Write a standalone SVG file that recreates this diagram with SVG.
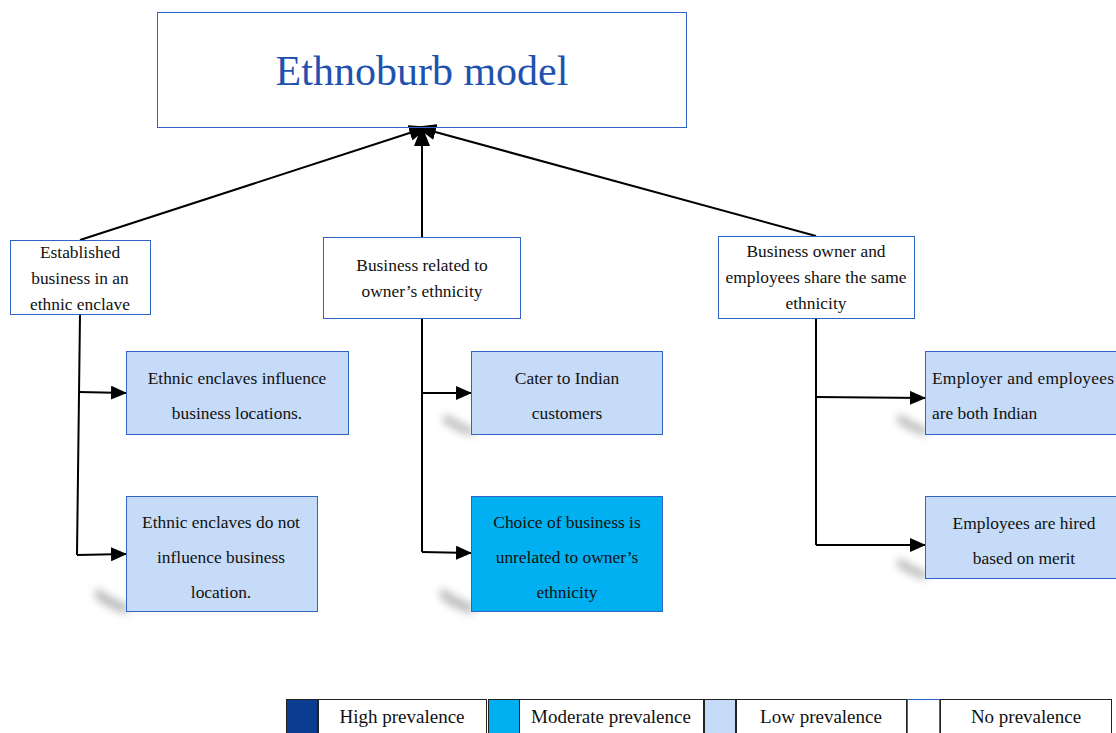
<svg xmlns="http://www.w3.org/2000/svg" width="1116" height="733" viewBox="0 0 1116 733">
  <style>
    .box { stroke: #2f66c4; stroke-width: 1; }
    .white { fill: #ffffff; }
    .low { fill: #c6dbf8; }
    .mod { fill: #00b0f0; }
    .t { font-family: "Liberation Serif", "Times New Roman", serif; font-size: 17.4px; fill: #111111; text-anchor: middle; }
    .ts { font-family: "Liberation Serif", "Times New Roman", serif; font-size: 17.4px; fill: #111111; text-anchor: start; }
    .lg { font-family: "Liberation Serif", "Times New Roman", serif; font-size: 19px; fill: #111111; text-anchor: middle; }
    .edge { stroke: #000000; stroke-width: 2; fill: none; }
    .shadow { fill: #707070; opacity: 0.5; filter: url(#soft); }
  </style>
  <defs>
    <marker id="arrow" viewBox="0 0 16 14" refX="15" refY="7" markerWidth="16" markerHeight="14" markerUnits="userSpaceOnUse" orient="auto">
      <path d="M0,0 L16,7 L0,14 z" fill="#000000"/>
    </marker>
    <marker id="arrowBig" viewBox="0 0 20 16" refX="19" refY="8" markerWidth="20" markerHeight="16" markerUnits="userSpaceOnUse" orient="auto">
      <path d="M0,0 L20,8 L0,16 z" fill="#000000"/>
    </marker>
    <filter id="soft" x="-50%" y="-50%" width="200%" height="200%">
      <feGaussianBlur stdDeviation="4.5"/>
    </filter>
  </defs>

  <rect width="1116" height="733" fill="#ffffff"/>

  <!-- soft drop shadows beneath the lower-left corners -->
  <g id="shadows">
    <path class="shadow" d="M98,588 Q112,600 128,604 L128,614 Q106,608 94,596 z"/>
    <path class="shadow" d="M443,588 Q457,600 473,604 L473,614 Q451,608 439,596 z"/>
    <path class="shadow" d="M446,414 Q460,424 473,428 L473,436 Q455,431 442,421 z"/>
    <path class="shadow" d="M900,414 Q914,424 927,428 L927,436 Q909,431 896,421 z"/>
    <path class="shadow" d="M900,558 Q914,568 927,572 L927,580 Q909,575 896,565 z"/>
  </g>

  <!-- connectors -->
  <g id="connectors">
    <line class="edge" x1="80" y1="240" x2="428" y2="127" marker-end="url(#arrowBig)"/>
    <line class="edge" x1="422" y1="237" x2="422" y2="127" marker-end="url(#arrowBig)"/>
    <line class="edge" x1="816" y1="236" x2="417" y2="127" marker-end="url(#arrowBig)"/>

    <polyline class="edge" points="80,314 77,555"/>
    <polyline class="edge" points="79,392 126,393" marker-end="url(#arrow)"/>
    <polyline class="edge" points="77,555 126,554" marker-end="url(#arrow)"/>

    <polyline class="edge" points="422,318 422,552"/>
    <polyline class="edge" points="422,393 471,393" marker-end="url(#arrow)"/>
    <polyline class="edge" points="422,552 471,553" marker-end="url(#arrow)"/>

    <polyline class="edge" points="816,318 816,545"/>
    <polyline class="edge" points="816,397 925,398" marker-end="url(#arrow)"/>
    <polyline class="edge" points="816,545 925,545" marker-end="url(#arrow)"/>
  </g>

  <g id="title">
    <rect class="box" x="157.5" y="12.5" width="529" height="115" fill="none"/>
    <text x="422" y="85" font-family="Liberation Serif, Times New Roman, serif" font-size="42" fill="#1f52b0" text-anchor="middle">Ethnoburb model</text>
  </g>

  <g id="enclave">
    <rect class="box white" x="10.5" y="240.5" width="140" height="74"/>
    <text class="t" x="80" y="258">Established</text>
    <text class="t" x="80" y="284">business in an</text>
    <text class="t" x="80" y="310">ethnic enclave</text>
  </g>

  <g id="ethnicity">
    <rect class="box white" x="323.5" y="237.5" width="197" height="81"/>
    <text class="t" x="422" y="271">Business related to</text>
    <text class="t" x="422" y="297">owner’s ethnicity</text>
  </g>

  <g id="sameethnicity">
    <rect class="box white" x="718.5" y="236.5" width="196" height="82"/>
    <text class="t" x="816" y="257">Business owner and</text>
    <text class="t" x="816" y="283">employees share the same</text>
    <text class="t" x="816" y="309">ethnicity</text>
  </g>

  <g id="influence">
    <rect class="box low" x="126.5" y="351.5" width="222" height="83"/>
    <text class="t" x="237" y="384">Ethnic enclaves influence</text>
    <text class="t" x="237" y="419">business locations.</text>
  </g>

  <g id="noinfluence">
    <rect class="box low" x="126.5" y="496.5" width="191" height="115"/>
    <text class="t" x="221" y="528">Ethnic enclaves do not</text>
    <text class="t" x="221" y="563">influence business</text>
    <text class="t" x="221" y="598">location.</text>
  </g>

  <g id="indian">
    <rect class="box low" x="471.5" y="351.5" width="191" height="83"/>
    <text class="t" x="567" y="384">Cater to Indian</text>
    <text class="t" x="567" y="419">customers</text>
  </g>

  <g id="unrelated">
    <rect class="box mod" x="471.5" y="496.5" width="191" height="115"/>
    <text class="t" x="567" y="528">Choice of business is</text>
    <text class="t" x="567" y="563">unrelated to owner’s</text>
    <text class="t" x="567" y="598">ethnicity</text>
  </g>

  <g id="bothindian">
    <rect class="box low" x="925.5" y="351.5" width="200" height="83"/>
    <text class="ts" x="932" y="384" textLength="182" lengthAdjust="spacing">Employer and employees</text>
    <text class="ts" x="932" y="419">are both Indian</text>
  </g>

  <g id="merit">
    <rect class="box low" x="925.5" y="496.5" width="200" height="82"/>
    <text class="t" x="1024" y="529">Employees are hired</text>
    <text class="t" x="1024" y="564">based on merit</text>
  </g>

  <!-- prevalence key -->
  <g id="legend">
    <rect x="286.5" y="699.5" width="31" height="40" fill="#0a3d8f" stroke="#222" stroke-width="1"/>
    <rect x="318.5" y="699.5" width="168" height="40" fill="#fff" stroke="#222" stroke-width="1"/>
    <text class="lg" x="402" y="723">High prevalence</text>

    <rect x="488.5" y="699.5" width="31" height="40" fill="#00b0f0" stroke="#222" stroke-width="1"/>
    <rect x="519.5" y="699.5" width="184" height="40" fill="#fff" stroke="#222" stroke-width="1"/>
    <text class="lg" x="611" y="723">Moderate prevalence</text>

    <rect x="704.5" y="699.5" width="31" height="40" fill="#c6dbf8" stroke="#222" stroke-width="1"/>
    <rect x="736.5" y="699.5" width="170" height="40" fill="#fff" stroke="#222" stroke-width="1"/>
    <text class="lg" x="821" y="723">Low prevalence</text>

    <rect x="907.5" y="699.5" width="32" height="40" fill="#fff" stroke="#2f66c4" stroke-width="1"/>
    <rect x="940.5" y="699.5" width="171" height="40" fill="#fff" stroke="#222" stroke-width="1"/>
    <text class="lg" x="1026" y="723">No prevalence</text>
  </g>
</svg>
